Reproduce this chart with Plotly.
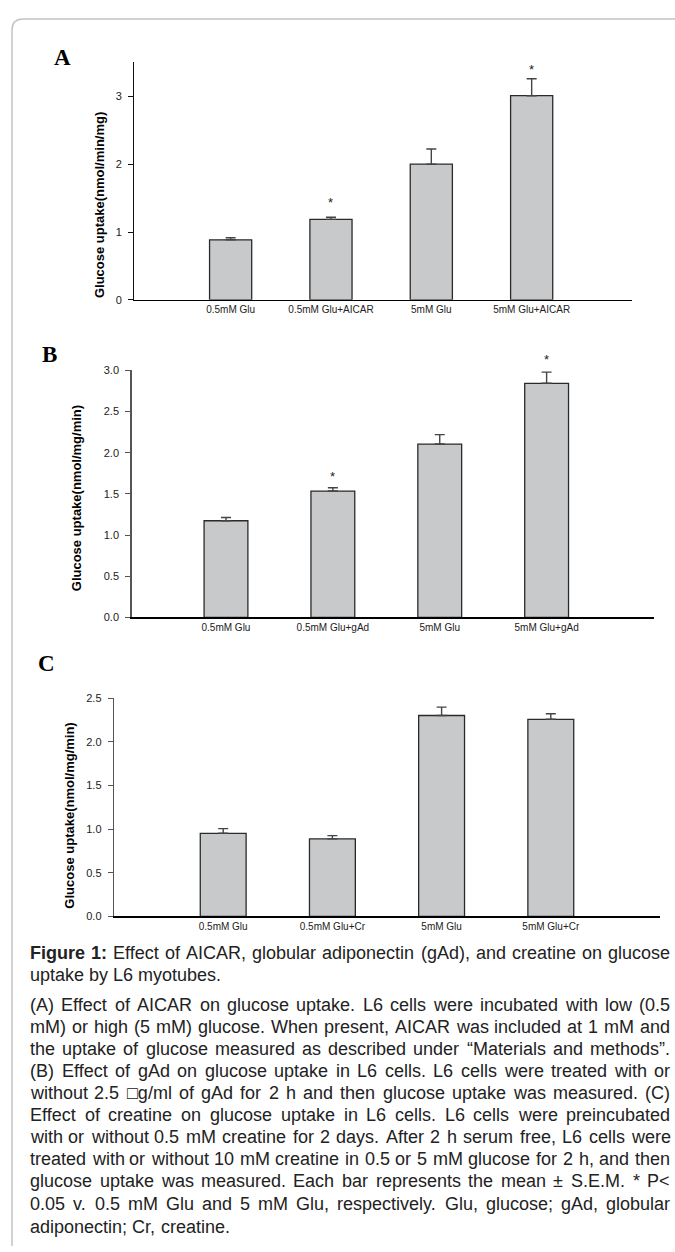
import plotly.graph_objects as go

W, H = 675, 1252

# ---------------- data ----------------
xpos = [1, 2, 3, 4]

cats_A = ["0.5mM Glu", "0.5mM Glu+AICAR", "5mM Glu", "5mM Glu+AICAR"]
mean_A = [0.885, 1.187, 2.00, 3.01]
sem_A = [0.03, 0.03, 0.225, 0.25]
sig_A = [0, 1, 0, 1]

cats_B = ["0.5mM Glu", "0.5mM Glu+gAd", "5mM Glu", "5mM Glu+gAd"]
mean_B = [1.174, 1.535, 2.106, 2.844]
sem_B = [0.04, 0.04, 0.115, 0.136]
sig_B = [0, 1, 0, 1]

cats_C = ["0.5mM Glu", "0.5mM Glu+Cr", "5mM Glu", "5mM Glu+Cr"]
mean_C = [0.952, 0.888, 2.30, 2.256]
sem_C = [0.053, 0.037, 0.096, 0.064]
sig_C = [0, 0, 0, 0]

ticks_A = [0, 1, 2, 3]
ticks_B = [0.0, 0.5, 1.0, 1.5, 2.0, 2.5, 3.0]
ticks_C = [0.0, 0.5, 1.0, 1.5, 2.0, 2.5]

caption_lines = [
    "**Figure **1: Effect of AICAR, globular adiponectin (gAd), and creatine on glucose",
    "uptake by L6 myotubes.",
    "(A) Effect of AICAR on glucose uptake. L6 cells were incubated with low (0.5",
    "mM) or high (5 mM) glucose. When present, AICAR was included at 1 mM and",
    "the uptake of glucose measured as described under \u201cMaterials and methods\u201d.",
    "(B) Effect of gAd on glucose uptake in L6 cells. L6 cells were treated with or",
    "without 2.5 \u25a1g/ml of gAd for 2 h and then glucose uptake was measured. (C)",
    "Effect of creatine on glucose uptake in L6 cells. L6 cells were preincubated",
    "with or without 0.5 mM creatine for 2 days. After 2 h serum free, L6 cells were",
    "treated with or without 10 mM creatine in 0.5 or 5 mM glucose for 2 h, and then",
    "glucose uptake was measured. Each bar represents the mean \u00b1 S.E.M. * P<",
    "0.05 v. 0.5 mM Glu and 5 mM Glu, respectively. Glu, glucose; gAd, globular",
    "adiponectin; Cr, creatine.",
]
caption_last_line = [False, True, False, False, False, False, False, False, False, False, False, False, True]

# ---------------- layout geometry (pixels) ----------------
panels = [
    dict(name="A", cats=cats_A, mean=mean_A, sem=sem_A, sig=sig_A, ticks=ticks_A,
         tickfmt="d", yr=[0, 3.5], xr=[0.04, 5.0], px=(134.3, 632), py=(57, 296.7),
         title="Glucose uptake(nmol/min/mg)", tpos=(99, 201), lpos=(62, 52),
         ycol="#111111", bw=0.42, sshift=[0, 18, 0, 12.6]),
    dict(name="B", cats=cats_B, mean=mean_B, sem=sem_B, sig=sig_B, ticks=ticks_B,
         tickfmt=".1f", yr=[0, 3.0], xr=[0.116, 5.0], px=(131.5, 653.5), py=(368, 617.3),
         title="Glucose uptake(nmol/mg/min)", tpos=(76, 497), lpos=(49, 352),
         ycol="#555555", bw=0.41, sshift=[0, 14.6, 0, 15.4]),
    dict(name="C", cats=cats_C, mean=mean_C, sem=sem_C, sig=sig_C, ticks=ticks_C,
         tickfmt=".1f", yr=[0, 2.5], xr=[0.0, 5.0], px=(114, 660), py=(698.7, 919.3),
         title="Glucose uptake(nmol/mg/min)", tpos=(69.5, 818), lpos=(46, 664),
         ycol="#555555", bw=0.42, sshift=[0, 0, 0, 0]),
]

FONT = "Liberation Sans, Arial, sans-serif"

fig = go.Figure()
annotations = []
layout_axes = {}

for i, p in enumerate(panels):
    k = "" if i == 0 else str(i + 1)
    xa, ya = "x" + k, "y" + k
    fig.add_trace(go.Bar(
        x=xpos, y=p["mean"], width=p["bw"], xaxis=xa, yaxis=ya,
        marker=dict(color="#c8c9cb", line=dict(color="#2a2a2a", width=1.3)),
        error_y=dict(type="data", array=p["sem"], arrayminus=[0] * 4, symmetric=False,
                     color="#444444", thickness=1.4, width=5),
        showlegend=False, hoverinfo="skip",
    ))
    for xv, m, s, g, sh in zip(xpos, p["mean"], p["sem"], p["sig"], p["sshift"]):
        if g:
            annotations.append(dict(x=xv, y=m + s, xref=xa, yref=ya, text="*", showarrow=False,
                                    font=dict(family=FONT, size=13, color="#222"),
                                    yanchor="middle", yshift=sh - 3))
    layout_axes["xaxis" + k] = dict(
        domain=[p["px"][0] / W, p["px"][1] / W], range=p["xr"], anchor=ya,
        tickmode="array", tickvals=xpos, ticktext=p["cats"], ticks="",
        showline=True, linecolor="#000000", linewidth=1.3, showgrid=False, zeroline=False,
        tickfont=dict(family=FONT, size=10, color="#222"),
        fixedrange=True,
    )
    layout_axes["yaxis" + k] = dict(
        domain=[1 - p["py"][1] / H, 1 - p["py"][0] / H], range=p["yr"], anchor=xa,
        tickmode="array", tickvals=p["ticks"],
        ticktext=[format(t, ".1f") if p["tickfmt"] == ".1f" else str(int(t)) for t in p["ticks"]],
        ticks="outside", ticklen=5, tickcolor=p["ycol"], tickwidth=1,
        showline=True, linecolor=p["ycol"], linewidth=1.3, showgrid=False, zeroline=False,
        tickfont=dict(family=FONT, size=11, color="#222"),
        ticklabelstandoff=4, fixedrange=True,
    )
    annotations.append(dict(x=p["tpos"][0] / W, y=1 - p["tpos"][1] / H, xref="paper", yref="paper",
                            text="<b>" + p["title"] + "</b>", textangle=-90, showarrow=False,
                            font=dict(family=FONT, size=13, color="#000"),
                            xanchor="center", yanchor="middle"))
    annotations.append(dict(x=p["lpos"][0] / W, y=1 - p["lpos"][1] / H, xref="paper", yref="paper",
                            text="<b>" + p["name"] + "</b>", showarrow=False,
                            font=dict(family="Liberation Serif, Times New Roman, serif", size=23, color="#000"),
                            xanchor="center", yanchor="middle"))

# ---------------- caption (justified, word by word) ----------------
REG = {' ': 278, '!': 278, '"': 355, '#': 556, '$': 556, '%': 889, '&': 667, "'": 191, '(': 333,
       ')': 333, '*': 389, '+': 584, ',': 278, '-': 333, '.': 278, '/': 278, ':': 278, ';': 278,
       '<': 584, '=': 584, '>': 584, '?': 556, 'A': 667, 'B': 667, 'C': 722, 'D': 722, 'E': 667,
       'F': 611, 'G': 778, 'H': 722, 'I': 278, 'J': 500, 'K': 667, 'L': 556, 'M': 833, 'N': 722,
       'O': 778, 'P': 667, 'Q': 778, 'R': 722, 'S': 667, 'T': 611, 'U': 722, 'V': 667, 'W': 944,
       'X': 667, 'Y': 667, 'Z': 611, 'a': 556, 'b': 556, 'c': 500, 'd': 556, 'e': 556, 'f': 278,
       'g': 556, 'h': 556, 'i': 222, 'j': 222, 'k': 500, 'l': 222, 'm': 833, 'n': 556, 'o': 556,
       'p': 556, 'q': 556, 'r': 333, 's': 500, 't': 278, 'u': 556, 'v': 500, 'w': 722, 'x': 500,
       'y': 500, 'z': 500, '\u201c': 333, '\u201d': 333, '\u00b1': 584, '\u25a1': 600}
for d in "0123456789":
    REG[d] = 556
BOLD = {'F': 611, 'i': 278, 'g': 611, 'u': 611, 'r': 389, 'e': 556, '1': 556, ':': 333, ' ': 278}

CAP_SIZE = 18
CAP_LEFT, CAP_RIGHT = 29, 669
line_y = [956, 978.3, 1009, 1030.7, 1053.3, 1075.7, 1097.7, 1120, 1142.3, 1164.3, 1186.7, 1209.3, 1232.7]


def wwidth(word, bold):
    tab = BOLD if bold else REG
    return sum(tab.get(ch, REG.get(ch, 556)) for ch in word) * CAP_SIZE / 1000.0


for raw, yy, last in zip(caption_lines, line_y, caption_last_line):
    words = []
    if raw.startswith("**Figure **1:"):
        words.append(("Figure", True))
        words.append(("1:", True))
        raw = raw[len("**Figure **1:"):].strip()
    words += [(w, False) for w in raw.split()]
    widths = [wwidth(w, b) for w, b in words]
    sp = REG[' '] * CAP_SIZE / 1000.0
    gaps = len(words) - 1
    if last or gaps == 0:
        gap = sp
    else:
        gap = (CAP_RIGHT - CAP_LEFT - sum(widths)) / gaps
    xc = CAP_LEFT
    for (w, b), wd in zip(words, widths):
        annotations.append(dict(x=xc / W, y=1 - yy / H, xref="paper", yref="paper",
                                text=("<b>%s</b>" % w) if b else w,
                                showarrow=False, xanchor="left", yanchor="middle", align="left",
                                borderpad=0,
                                font=dict(family=FONT, size=CAP_SIZE, color="#222")))
        xc += wd + gap

# frame with rounded top-left corner
r = 11
frame_path = (f"M {12/W},{0} L {12/W},{1-(13+r)/H} "
              f"Q {12/W},{1-13/H} {(12+r)/W},{1-13/H} L {1.0},{1-13/H}")
shapes = [dict(type="path", xref="paper", yref="paper", path=frame_path,
               line=dict(color="#c4c4c4", width=1.5))]

fig.update_layout(
    width=W, height=H, autosize=False,
    margin=dict(l=0, r=0, t=0, b=0),
    paper_bgcolor="white", plot_bgcolor="white",
    annotations=annotations, shapes=shapes,
    bargap=0, **layout_axes,
)

fig.write_html("out.html", config={"displayModeBar": False, "staticPlot": True},
               post_script="document.body.style.margin='0px';")
